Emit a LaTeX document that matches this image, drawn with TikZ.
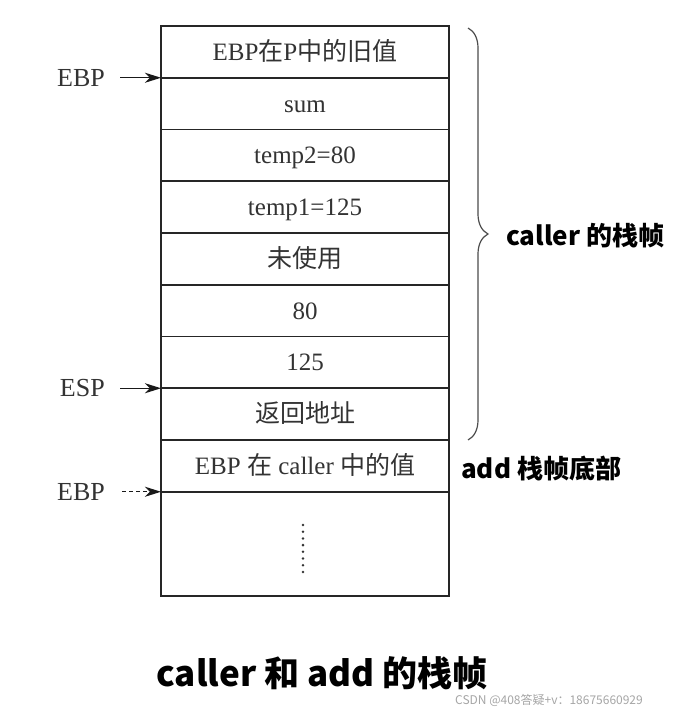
\documentclass[tikz,border=0pt]{standalone}
\usepackage{fontspec}
\setmainfont{Liberation Serif}
\newfontfamily\cjk{Noto Sans CJK SC}
\usetikzlibrary{decorations.pathreplacing,arrows.meta}
\begin{document}
\begin{tikzpicture}[x=1pt,y=-1pt,
  cell/.style={draw=black!85, line width=1.8pt, minimum width=288pt, minimum height=51.75pt,
    inner sep=0pt, outer sep=0pt, font=\fontsize{25}{25}\selectfont, text=black!80,
    text height=19pt, text depth=2pt, anchor=north west},
  lab/.style={font=\fontsize{26}{26}\selectfont, text=black!80, inner sep=0pt, anchor=east},
  arr/.style={-{Stealth[length=16pt,width=10pt,inset=5pt]}, line width=1.4pt, draw=black!90},
  bold/.style={font=\cjk\bfseries\fontsize{26}{26}\selectfont, text=black, inner sep=0pt}]
\useasboundingbox[fill=white] (0,0) rectangle (689,714);
% stack cells
\node[cell] (r1) at (161,26) {EBP{\cjk 在}P{\cjk 中的旧值}};
\node[cell] (r2) at (r1.south west) {sum};
\node[cell] (r3) at (r2.south west) {temp2=80};
\node[cell] (r4) at (r3.south west) {temp1=125};
\node[cell] (r5) at (r4.south west) {\cjk 未使用};
\node[cell] (r6) at (r5.south west) {80};
\node[cell] (r7) at (r6.south west) {125};
\node[cell] (r8) at (r7.south west) {\cjk 返回地址};
\node[cell] (r9) at (r8.south west) {EBP {\cjk 在} caller {\cjk 中的值}};
\node[cell, minimum height=104pt] (r10) at (r9.south west) {};
\foreach \i in {0,...,7} \fill[black!80] (303,525+\i*6.7) circle (1.4pt);
% pointers
\node[lab] (ebp1) at ([xshift=-56pt]r2.north west) {EBP};
\node[lab] (esp) at ([xshift=-56pt]r8.north west) {ESP};
\node[lab] (ebp2) at ([xshift=-56pt]r10.north west) {EBP};
\draw[arr] ([xshift=-41pt]r2.north west) -- (r2.north west);
\draw[arr] ([xshift=-41pt]r8.north west) -- (r8.north west);
\draw[arr, dashed, dash pattern=on 4pt off 3pt] ([xshift=-39pt]r10.north west) -- (r10.north west);
% brace
\coordinate (bt) at (468,28);
\coordinate (bb) at (468,440);
\draw[decorate, decoration={brace, amplitude=20pt}, line width=1.2pt, draw=black!70] (bt) -- (bb);
\node[bold, anchor=west] (callerlab) at (506,236) {caller 的栈帧};
\node[bold, anchor=west] (addlab) at (461,469) {add 栈帧底部};
% title
\node[bold, font=\cjk\bfseries\fontsize{35}{35}\selectfont] (title) at (322,673) {caller 和 add 的栈帧};
\node[anchor=west, inner sep=0pt, font=\cjk\fontsize{12}{12}\selectfont, text=black!35] (wm) at (455,700) {CSDN @408答疑+v：18675660929};
\end{tikzpicture}
\end{document}
